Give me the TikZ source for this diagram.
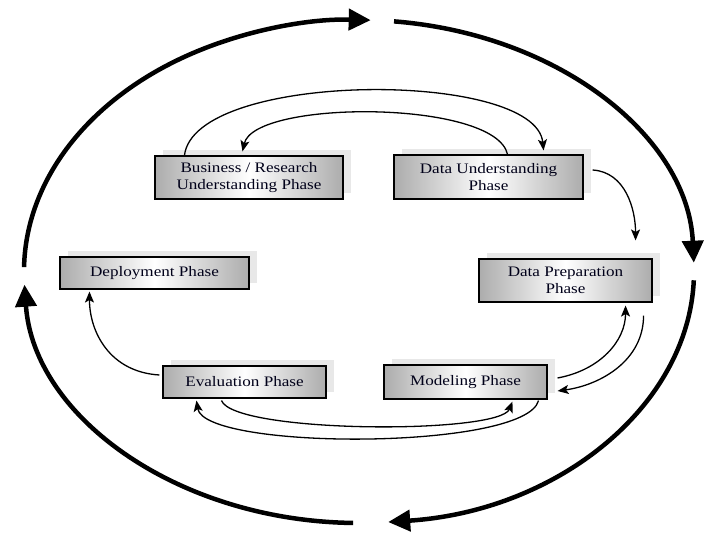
\documentclass[tikz,border=0pt]{standalone}
\usepackage{fontspec}
\setmainfont{Liberation Serif}[FakeStretch=1.18]
\usetikzlibrary{arrows.meta,calc,shadows}
\begin{document}
\begin{tikzpicture}[x=1pt,y=-1pt,
  phase/.style={draw=black,line width=1.1pt,align=center,inner sep=0pt,
    left color=gray!65,right color=gray!65,middle color=white,
    font=\fontsize{14.5}{16.5}\selectfont,text=black!90!blue,
    general shadow={fill=black!9,shadow xshift=8pt,shadow yshift=6pt}},
  link/.style={line width=1.3pt,-{Stealth[length=11pt,width=9pt,inset=2.5pt]}},
  bigarrow/.style={line width=4.5pt,-{Triangle[length=22pt,width=21pt]}}]
\useasboundingbox[fill=white] (0,0) rectangle (720,540);
\node[phase,minimum width=188pt,minimum height=43pt] (bus) at (249,177.5) {Business / Research\\Understanding Phase};
\node[phase,minimum width=189pt,minimum height=44pt] (du) at (488.5,177) {Data Understanding\\Phase};
\node[phase,minimum width=189pt,minimum height=32pt] (dep) at (154.5,273) {Deployment Phase};
\node[phase,minimum width=173pt,minimum height=43pt] (prep) at (565.5,280.5) {Data Preparation\\Phase};
\node[phase,minimum width=163pt,minimum height=32pt] (eval) at (244.5,382) {Evaluation Phase};
\node[phase,minimum width=163pt,minimum height=34pt] (mod) at (465.5,382) {Modeling Phase};
% small connectors
\draw[link] ($(bus.north west)+(30,0)$) .. controls +(10,-85) and +(-8,-81) .. ($(du.north east)+(-40,-4)$);
\draw[link] ($(du.north east)+(-76,0)$) .. controls +(-12,-55) and +(12,-52) .. ($(bus.north west)+(88,-4)$);
\draw[link] ($(du.east)+(9,-7)$) .. controls +(33,2) and +(0,-31) .. ($(prep.north east)+(-17,-18)$);
\draw[link] ($(prep.south east)+(-9,13)$) .. controls +(0,45) and +(43,-6) .. ($(mod.east)+(10,9)$);
\draw[link] ($(mod.east)+(10,-4)$) .. controls +(43,-8) and +(0,35) .. ($(prep.south east)+(-27,3)$);
\draw[link] ($(mod.south east)+(-9,1)$) .. controls +(-13,50) and +(8,50) .. ($(eval.south west)+(34,2)$);
\draw[link] ($(eval.south west)+(59,2)$) .. controls +(13,33) and +(-13,33) .. ($(mod.south west)+(129,2)$);
\draw[link] ($(eval.west)+(-3,-7)$) .. controls +(-50,-3) and +(0,40) .. ($(dep.south west)+(30,2)$);
% big cycle
\coordinate (c) at (359,271.5);
\draw[bigarrow] ($(c)+(181:335 and 251.5)$) arc[start angle=181,end angle=272,x radius=335,y radius=251.5];
\draw[bigarrow] ($(c)+(276:335 and 251.5)$) arc[start angle=276,end angle=358,x radius=335,y radius=251.5];
\draw[bigarrow] ($(c)+(2:335 and 251.5)$) arc[start angle=2,end angle=85,x radius=335,y radius=251.5];
\draw[bigarrow] ($(c)+(91:335 and 251.5)$) arc[start angle=91,end angle=177,x radius=335,y radius=251.5];
\end{tikzpicture}
\end{document}
